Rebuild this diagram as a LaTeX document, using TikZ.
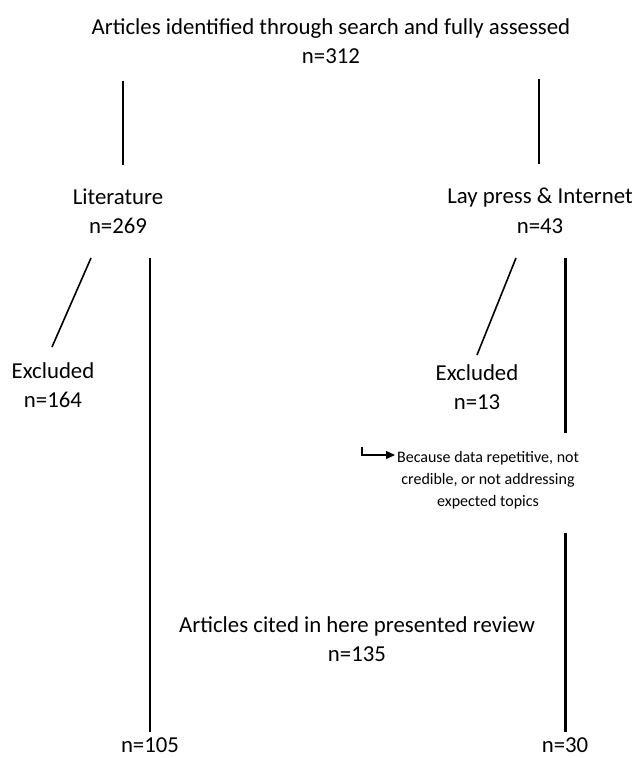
\documentclass[tikz,border=0pt]{standalone}
\usepackage{fontspec}
\setmainfont{Carlito}
\usetikzlibrary{arrows.meta}

\begin{document}
\begin{tikzpicture}[
            x=1pt, y=-1pt,
            every node/.style={
              align=center,
              inner sep=0pt,
              font=\fontsize{22.8}{29.5}\selectfont,
            },
            note/.style={font=\fontsize{16}{22}\selectfont},
            link/.style={line width=1.6pt},
            thickline/.style={line width=3pt},
            >={Triangle[length=9pt,width=8pt]},
          ]
          \useasboundingbox (0,0) rectangle (633,758);
          \node (top) at (331,41) {Articles identified through search and fully assessed\\n=312} ;
          \node (lit) at (118,211) {Literature\\n=269} ;
          \node (lay) at (540,211) {Lay press \& Internet\\n=43} ;
          \node (exl) at (53,385) {Excluded\\n=164} ;
          \node (exr) at (477,387) {Excluded\\n=13} ;
          \node[note] (why) at (488,480) {Because data repetitive, not\\credible, or not addressing\\expected topics} ;
          \node (cited) at (357,639) {Articles cited in here presented review\\n=135} ;
          \node (litn) at (150,745) {n=105} ;
          \node (layn) at (565,745) {n=30} ;
          % line ends
          \coordinate (t1) at (123,81) ; \coordinate (t2) at (123,165) ;
          \coordinate (t3) at (539,79) ; \coordinate (t4) at (539,164) ;
          \coordinate (d1) at (91,258) ; \coordinate (d2) at (52,347) ;
          \coordinate (d3) at (516,258) ; \coordinate (d4) at (477,355) ;
          \coordinate (l1) at (150,258) ; \coordinate (l2) at (150,732) ;
          \coordinate (r1) at (565,258) ; \coordinate (r2) at (565,433) ;
          \coordinate (r3) at (565,533) ; \coordinate (r4) at (565,732) ;
          \coordinate (w1) at (362,447) ; \coordinate (w2) at (395,455) ;
          \draw[link] (t1)--(t2) ;
          \draw[link] (t3)--(t4) ;
          \draw[link] (d1)--(d2) ;
          \draw[link] (d3)--(d4) ;
          \draw[link] (l1)--(l2) ;
          \draw[thickline] (r1)--(r2) ;
          \draw[thickline] (r3)--(r4) ;
          \draw[line width=1.3pt,->] (w1) |- (w2) ;
          \end{tikzpicture}
\end{document}
